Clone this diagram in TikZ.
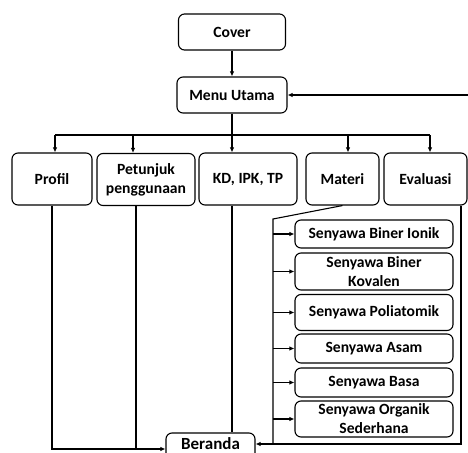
\documentclass[tikz,border=0pt]{standalone}
\usepackage{fontspec}
\setmainfont{Carlito}
\usetikzlibrary{arrows.meta}
\usetikzlibrary{calc}
\tikzstyle{box}=[draw,rounded corners=6pt,line width=1.1pt,inner sep=0pt,align=center,font=\bfseries\fontsize{15.6}{19}\selectfont]
\tikzstyle{subbox}=[box,minimum width=158pt]
\tikzstyle{edge} = [draw,line width=1.1pt,-{Latex[length=5pt,width=4.5pt]}]
\tikzstyle{plainedge} = [draw,line width=1.1pt]

\begin{document}
\begin{tikzpicture}[x=1pt,y=-1pt]
    \useasboundingbox (0,0) rectangle (468,452);

    % top of the menu
    \node[box,minimum width=107pt,minimum height=36pt] (cover) at (232,32) {Cover};
    \node[box,minimum width=110pt,minimum height=36pt] (menu) at (232,95) {Menu Utama};

    % the five menu pages
    \foreach \pos/\name/\w/\label in {{(52,179)/profil/80/Profil}, {(146,179.5)/petunjuk/98/Petunjuk\\penggunaan}, {(248,179)/kd/98/{KD, IPK, TP}}, {(342.5,179)/materi/73/Materi}, {(425.5,179)/evaluasi/83/Evaluasi}}
        \node[box,minimum width=\w pt,minimum height=52pt] (\name) at \pos {\label};

    % the parts of the materi
    \foreach \y/\name/\h/\label in {234/ionik/28/Senyawa Biner Ionik, 271.5/kovalen/37/Senyawa Biner\\Kovalen, 312.5/poli/36/Senyawa Poliatomik, 348.5/asam/29/Senyawa Asam, 382.5/basa/29/Senyawa Basa, 419/organik/36/Senyawa Organik\\Sederhana}
        \node[subbox,minimum height=\h pt] (\name) at (374,\y) {\label};

    \node[box,minimum width=89pt,minimum height=26pt,text depth=4pt,font=\bfseries\fontsize{17}{20}\selectfont] (beranda) at (210.5,446) {Beranda};

    % helper points
    \coordinate (busL) at (55,135);
    \coordinate (busR) at (430,135);
    \coordinate (ret) at (468,95);
    \coordinate (mt) at (273,219);
    \coordinate (mb) at (273,444);
    \coordinate (kdx) at (232,0);
    \coordinate (pex) at (136,0);
    \coordinate (evx) at (461,0);

    % Cover to menu, menu to the pages
    \path[edge] (cover) -- (menu);
    \path[plainedge] (busL) -- (busR);
    \path[edge] (menu.south) -- (menu.south |- kd.north);
    \foreach \name/\x in {profil/55, petunjuk/133, materi/348, evaluasi/430}
        \path[edge] (\x,135) -- (\name.north -| \x,0);

    % back to the menu
    \path[edge] (ret) -- (menu.east);

    % materi and its parts
    \path[plainedge] (materi.south) -- (mt) -- (mb);
    \foreach \name in {ionik, kovalen, poli, asam, basa, organik}
        \path[edge] (mt |- \name.west) -- (\name.west);

    % every page back to beranda
    \path[edge] (profil.south) |- ([yshift=-3pt]beranda.west);
    \path[plainedge] (petunjuk.south -| pex) -- ([yshift=-3pt]beranda.west -| pex);
    \path[plainedge] (kd.south -| kdx) -- (beranda.north -| kdx);
    \path[edge] (evaluasi.south -| evx) |- ([yshift=2pt]beranda.east);
\end{tikzpicture}
\end{document}
